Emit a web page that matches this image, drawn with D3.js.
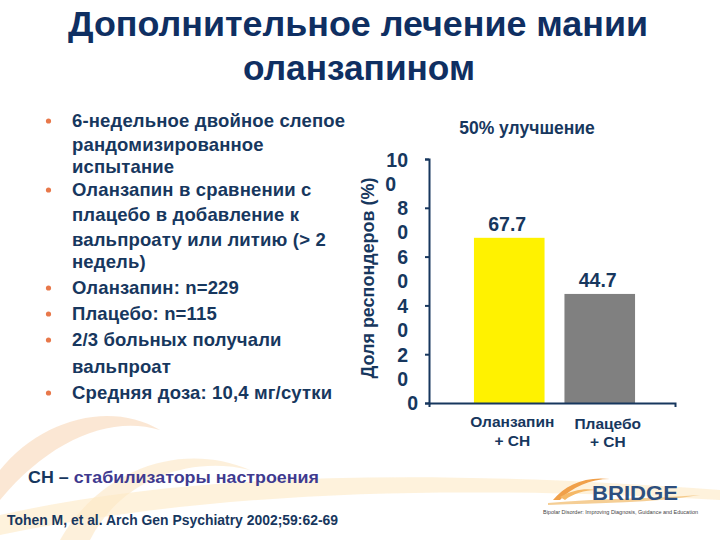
<!DOCTYPE html>
<html><head><meta charset="utf-8">
<script src="https://cdn.jsdelivr.net/npm/d3@7"></script>
<style>body{margin:0;background:#fff}svg{display:block}</style>
</head><body>
<script>
// ---- data ----
const categories = ["Оланзапин|+ СН", "Плацебо|+ СН"];
const values = [67.7, 44.7];
const barColors = ["#fff200", "#808080"];
const yTicks = [0, 20, 40, 60, 80, 100];
const titleLines = ["Дополнительное лечение мании", "оланзапином"];
const chartTitle = "50% улучшение";
const yAxisTitle = "Доля респондеров (%)";
const bulletLines = [
  {t: "6-недельное двойное слепое", b: true},
  {t: "рандомизированное", b: false},
  {t: "испытание", b: false},
  {t: "Оланзапин в сравнении с", b: true},
  {t: "плацебо в добавление к", b: false},
  {t: "вальпроату или литию (> 2", b: false},
  {t: "недель)", b: false},
  {t: "Оланзапин: n=229", b: true},
  {t: "Плацебо: n=115", b: true},
  {t: "2/3 больных получали", b: true},
  {t: "вальпроат", b: false},
  {t: "Средняя доза: 10,4 мг/сутки", b: true}
];
const footnote1a = "СН – ";
const footnote1b = "стабилизаторы настроения";
const citation = "Tohen M, et al. Arch Gen Psychiatry 2002;59:62-69";
const logoText = "BRIDGE";
const logoSub = "Bipolar Disorder: Improving Diagnosis, Guidance and Education";

// ---- drawing ----
const W = 720, H = 540;
const navy = "#17375e";
const font = "'Liberation Sans', Arial, sans-serif";
const svg = d3.select("body").append("svg").attr("width", W).attr("height", H)
  .style("font-family", font);

svg.append("rect").attr("width", W).attr("height", H).attr("fill", "#fff");

// decorative background swooshes
const bg = svg.append("g");
bg.append("path").attr("d", "M0,470 C40,420 110,400 160,430 C110,415 50,440 0,500 Z")
  .attr("fill", "#f6c9a0").attr("opacity", 0.45);
bg.append("path").attr("d", "M60,540 C100,470 180,440 250,470 C190,455 120,480 90,540 Z")
  .attr("fill", "#fbe2b8").attr("opacity", 0.5);
bg.append("path").attr("d", "M0,515 C200,470 450,470 720,490 L720,500 C450,485 220,490 0,535 Z")
  .attr("fill", "#fde9c4").attr("opacity", 0.6);

// title
const title = svg.append("g").attr("fill", "#0f2f62").attr("font-weight", "bold")
  .attr("font-size", 35).attr("text-anchor", "middle");
title.append("text").attr("x", 358).attr("y", 36).attr("textLength", 580)
  .attr("lengthAdjust", "spacingAndGlyphs").text(titleLines[0]);
title.append("text").attr("x", 359).attr("y", 80).attr("textLength", 232)
  .attr("lengthAdjust", "spacingAndGlyphs").text(titleLines[1]);

// bullets
const lineY = [127, 151, 173, 196, 221, 246, 268, 294, 320, 346, 373, 399];
const bl = svg.append("g").attr("font-weight", "bold").attr("font-size", 18.5)
  .attr("letter-spacing", 0.15).attr("fill", navy);
bulletLines.forEach((d, i) => {
  bl.append("text").attr("x", 72).attr("y", lineY[i]).text(d.t);
  if (d.b) bl.append("circle").attr("cx", 48.5).attr("cy", lineY[i] - 6).attr("r", 2.6).attr("fill", "#e8784a");
});

// chart
const y = d3.scaleLinear().domain([0, 100]).range([403, 159]);
const x = d3.scaleBand().domain(categories).range([464, 645]).paddingInner(0.22).paddingOuter(0.11);
const axisX0 = 429, axisX1 = 675;

svg.append("text").attr("x", 527).attr("y", 134).attr("text-anchor", "middle")
  .attr("font-weight", "bold").attr("font-size", 17.5).attr("fill", navy).text(chartTitle);

svg.selectAll("rect.bar").data(values).join("rect").attr("class", "bar")
  .attr("x", (d, i) => x(categories[i])).attr("width", x.bandwidth())
  .attr("y", d => y(d)).attr("height", d => y(0) - y(d))
  .attr("fill", (d, i) => barColors[i]);

svg.selectAll("text.val").data(values).join("text").attr("class", "val")
  .attr("x", (d, i) => x(categories[i]) + x.bandwidth() / 2 - 2)
  .attr("y", d => y(d) - 7).attr("text-anchor", "middle")
  .attr("font-weight", "bold").attr("font-size", 19.5).attr("fill", navy)
  .text(d => d.toFixed(1));

// y axis
const yAxis = svg.append("g").attr("transform", `translate(${axisX0},0)`)
  .call(d3.axisLeft(y).tickValues(yTicks).tickSize(4).tickSizeOuter(4).tickFormat(d3.format("d")));
yAxis.selectAll("path,line").attr("stroke", navy).attr("stroke-width", 2);
yAxis.selectAll(".tick text").each(function(d) {
  const t = d3.select(this);
  const s = String(d);
  t.text(null).attr("x", null).attr("dy", null).attr("text-anchor", "end")
    .attr("font-family", font).attr("font-weight", "bold").attr("font-size", 19.5).attr("fill", navy);
  if (s.length === 1) {
    t.attr("x", -11).attr("y", 6).text(s);
  } else {
    const first = s.slice(0, -1), last = s.slice(-1);
    const a = t.append("tspan").attr("x", -21).attr("y", 7).text(first);
    const w = a.node().getComputedTextLength();
    t.append("tspan").attr("x", -21 - w + (first.length > 1 ? -1 : 0)).attr("y", 31)
      .style("text-anchor", "start").text(last);
  }
});

// x axis baseline
const xl = d3.scaleLinear().domain([0, 1]).range([axisX0, axisX1]);
const xAxis = svg.append("g").attr("transform", `translate(0,${y(0)})`)
  .call(d3.axisBottom(xl).tickValues([]).tickSizeOuter(4));
xAxis.selectAll("path").attr("stroke", navy).attr("stroke-width", 2);

// x labels
const xlab = svg.append("g").attr("font-weight", "bold").attr("font-size", 15.5).attr("fill", navy)
  .attr("text-anchor", "middle");
const labelShift = [3, 8];
categories.forEach((c, i) => {
  const [l1, l2] = c.split("|");
  const cx = x(c) + x.bandwidth() / 2 + labelShift[i];
  xlab.append("text").attr("x", cx).attr("y", 427 + i * 2).text(l1);
  xlab.append("text").attr("x", cx).attr("y", 446 + i * 1).text(l2);
});

// y axis title
svg.append("text").attr("transform", "translate(374,278) rotate(-90)").attr("text-anchor", "middle")
  .attr("font-weight", "bold").attr("font-size", 18).attr("fill", navy)
  .attr("textLength", 201).attr("lengthAdjust", "spacingAndGlyphs").text(yAxisTitle);

// footnotes
const f1 = svg.append("text").attr("x", 28).attr("y", 483).attr("font-weight", "bold").attr("font-size", 16.5)
  .attr("textLength", 291).attr("lengthAdjust", "spacingAndGlyphs");
f1.append("tspan").attr("fill", navy).text(footnote1a);
f1.append("tspan").attr("fill", "#3f3a8f").text(footnote1b);
svg.append("text").attr("x", 7).attr("y", 525).attr("font-weight", "bold").attr("font-size", 14.5)
  .attr("fill", navy).attr("textLength", 331).attr("lengthAdjust", "spacingAndGlyphs").text(citation);

// logo
const lg = svg.append("g");
lg.append("path").attr("d", "M553,500 C565,485 585,476 610,479 C590,479 572,487 560,500 Z").attr("fill", "#f0a04a");
lg.append("path").attr("d", "M560,497 C572,490 585,488 596,490 C585,490 572,494 565,500 Z").attr("fill", "#f5b866");
lg.append("path").attr("d", "M548,503 C600,498 650,499 700,495 C650,503 600,503 548,505 Z").attr("fill", "#f3c27a").attr("opacity", 0.8);
lg.append("text").attr("x", 592).attr("y", 500).attr("font-weight", "bold").attr("font-size", 20)
  .attr("fill", "#2d4f7f").attr("textLength", 86).attr("lengthAdjust", "spacingAndGlyphs").text(logoText);
lg.append("text").attr("x", 543).attr("y", 514).attr("font-size", 5.5).attr("fill", "#444")
  .attr("textLength", 155).attr("lengthAdjust", "spacingAndGlyphs").text(logoSub);
</script>
</body></html>
